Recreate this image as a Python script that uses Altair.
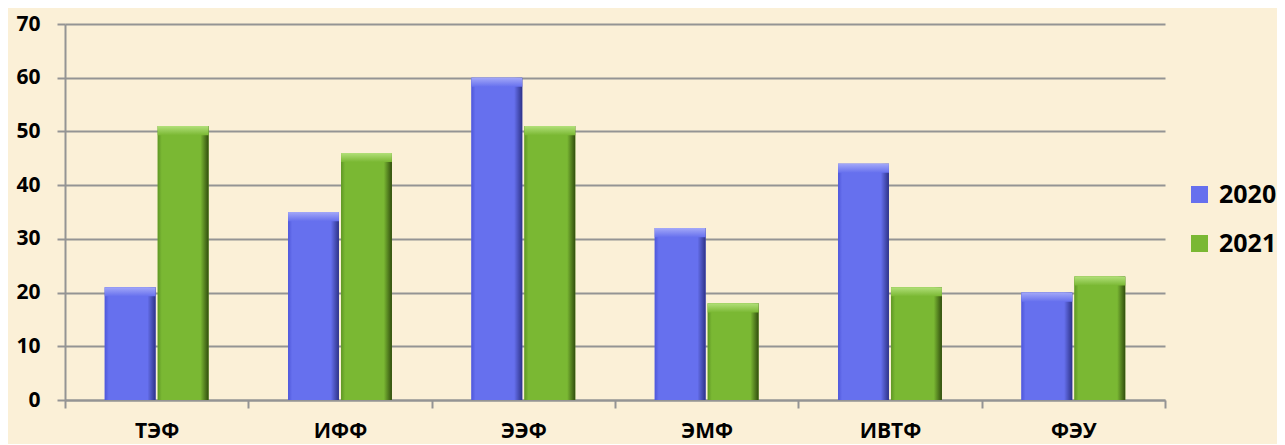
import altair as alt
import pandas as pd

categories = ["ТЭФ", "ИФФ", "ЭЭФ", "ЭМФ", "ИВТФ", "ФЭУ"]
years = ["2020", "2021"]
v2020 = [21, 35, 60, 32, 44, 20]
v2021 = [51, 46, 51, 18, 21, 23]

rows = []
for c, a, b in zip(categories, v2020, v2021):
    rows.append({"cat": c, "year": "2020", "value": a})
    rows.append({"cat": c, "year": "2021", "value": b})
df = pd.DataFrame(rows)

FONT = "Open Sans"
GRID = "#949494"
main_colors = ["#6670EE", "#7AB833"]


def hgrad(edge_l, main, edge_r):
    return alt.LinearGradient(
        gradient="linear", x1=0, x2=1, y1=0, y2=0,
        stops=[
            alt.GradientStop(offset=0, color=edge_l),
            alt.GradientStop(offset=0.08, color=main),
            alt.GradientStop(offset=0.84, color=main),
            alt.GradientStop(offset=1, color=edge_r),
        ],
    )


def vgrad(light, main):
    return alt.LinearGradient(
        gradient="linear", x1=0, x2=0, y1=0, y2=1,
        stops=[
            alt.GradientStop(offset=0, color=light),
            alt.GradientStop(offset=1, color=main),
        ],
    )


x_enc = alt.X(
    "cat:N", sort=categories, title=None,
    scale=alt.Scale(paddingInner=0, paddingOuter=0),
    axis=alt.Axis(
        labelAngle=0, labelFont=FONT, labelFontWeight="bold", labelFontSize=21,
        labelColor="black", labelPadding=12, tickBand="extent", tickSize=8,
        tickColor=GRID, tickWidth=2, domainColor=GRID, domainWidth=2,
        grid=False,
    ),
)
xo_enc = alt.XOffset(
    "year:N", scale=alt.Scale(domain=years, paddingInner=0.04, paddingOuter=0.75)
)
y_enc = alt.Y(
    "value:Q", title=None,
    scale=alt.Scale(domain=[0, 70], nice=False),
    axis=alt.Axis(
        values=list(range(0, 71, 10)), labelFont=FONT, labelFontWeight="bold",
        labelFontSize=21, labelColor="black", labelPadding=17, tickSize=8,
        tickColor=GRID, tickWidth=2, domainColor=GRID, domainWidth=2,
        grid=True, gridColor=GRID, gridWidth=2,
    ),
)

base = alt.Chart(df).mark_bar().encode(
    x=x_enc, xOffset=xo_enc, y=y_enc,
    color=alt.Color(
        "year:N", scale=alt.Scale(domain=years, range=main_colors),
        legend=alt.Legend(
            orient="none", legendX=1122, legendY=158, title=None,
            symbolType="square", symbolSize=290, symbolStrokeWidth=0,
            labelFont=FONT, labelFontWeight="bold", labelFontSize=25,
            labelColor="black", rowPadding=23, labelOffset=7,
        ),
    ),
)

blue = alt.Chart(df).transform_filter(alt.datum.year == "2020").mark_bar(
    color=hgrad("#4E57DA", "#6670EE", "#2E3388")
).encode(x=alt.X("cat:N", sort=categories), xOffset=xo_enc, y="value:Q")

green = alt.Chart(df).transform_filter(alt.datum.year == "2021").mark_bar(
    color=hgrad("#5F9625", "#7AB833", "#314D0E")
).encode(x=alt.X("cat:N", sort=categories), xOffset=xo_enc, y="value:Q")

top_blue = alt.Chart(df).transform_filter(alt.datum.year == "2020").transform_calculate(
    low="datum.value - 1.7"
).mark_bar(color=vgrad("#A3A8F8", "#6670EE")).encode(
    x=alt.X("cat:N", sort=categories), xOffset=xo_enc, y="value:Q", y2="low:Q"
)

top_green = alt.Chart(df).transform_filter(alt.datum.year == "2021").transform_calculate(
    low="datum.value - 1.7"
).mark_bar(color=vgrad("#B2E07A", "#7AB833")).encode(
    x=alt.X("cat:N", sort=categories), xOffset=xo_enc, y="value:Q", y2="low:Q"
)

chart = alt.layer(base, blue, green, top_blue, top_green).properties(
    width=1100, height=376,
    autosize=alt.AutoSizeParams(type="none"),
    padding={"left": 57, "top": 16, "right": 112, "bottom": 44},
).configure(background="#FBF0D7").configure_view(stroke=None)

chart.save("out.html", embed_options={"renderer": "svg", "actions": False})
